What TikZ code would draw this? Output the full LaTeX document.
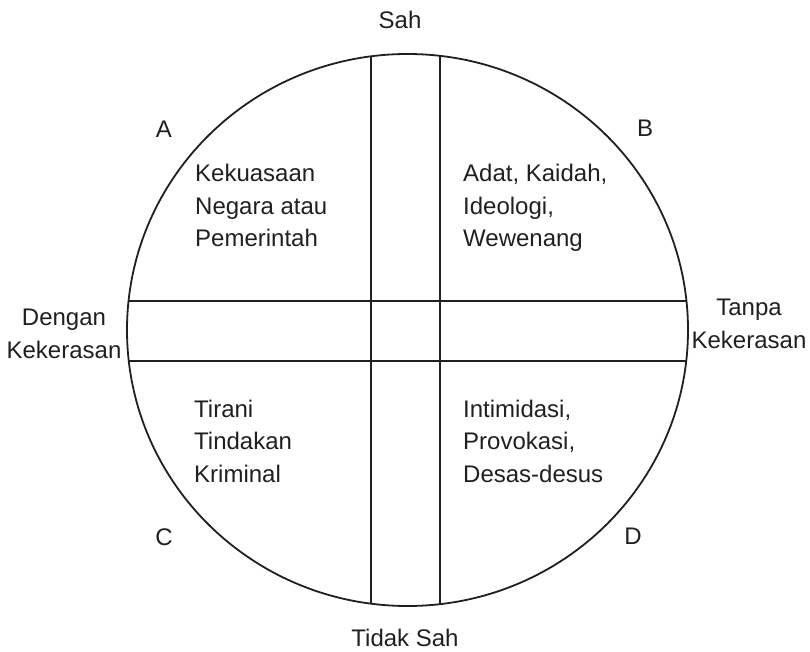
\documentclass[tikz,border=0pt]{standalone}
\usepackage{fontspec}
\setmainfont{Liberation Sans}
\usetikzlibrary{intersections}
\definecolor{ink}{HTML}{231F20}
\begin{document}
\begin{tikzpicture}[x=1pt,y=-1pt,
  ln/.style={draw=ink,line width=1.8pt},
  lbl/.style={inner sep=0pt,text=ink,font=\fontsize{24}{32.5}\selectfont},
  blk/.style={lbl,align=left,anchor=base west},
  side/.style={lbl,align=center,anchor=base}]
\useasboundingbox (0,0) rectangle (810,652);
\fill[white] (0,0) rectangle (810,652);
\coordinate (O) at (407.5,330);
\path[name path=circ] (O) ellipse [x radius=280.5, y radius=276];
\path[name path=v1] (371,0) -- (371,652);
\path[name path=v2] (440,0) -- (440,652);
\path[name path=h1] (0,300.7) -- (810,300.7);
\path[name path=h2] (0,361) -- (810,361);
\draw[ln] (O) ellipse [x radius=280.5, y radius=276];
\draw[ln, name intersections={of=circ and v1, name=a}] (a-1) -- (a-2);
\draw[ln, name intersections={of=circ and v2, name=b}] (b-1) -- (b-2);
\draw[ln, name intersections={of=circ and h1, name=c}] (c-1) -- (c-2);
\draw[ln, name intersections={of=circ and h2, name=d}] (d-1) -- (d-2);
% side labels (base anchor = baseline of last line)
\node[side] (sah) at (400,29) {Sah};
\node[side] (tsah) at (405,646) {Tidak Sah};
\node[side] (dk) at (64,358) {Dengan\\Kekerasan};
\node[side] (tk) at (749,348) {Tanpa\\Kekerasan};
\node[side] (A) at (164,138) {A};
\node[side] (B) at (645,137) {B};
\node[side] (C) at (164,545) {C};
\node[side] (D) at (633,544) {D};
% quadrant texts
\node[blk] (qa) at (195,247) {Kekuasaan\\Negara atau\\Pemerintah};
\node[blk] (qb) at (463,247) {Adat, Kaidah,\\Ideologi,\\Wewenang};
\node[blk] (qc) at (194,482) {Tirani\\Tindakan\\Kriminal};
\node[blk] (qd) at (463,482) {Intimidasi,\\Provokasi,\\Desas-desus};
\end{tikzpicture}
\end{document}
